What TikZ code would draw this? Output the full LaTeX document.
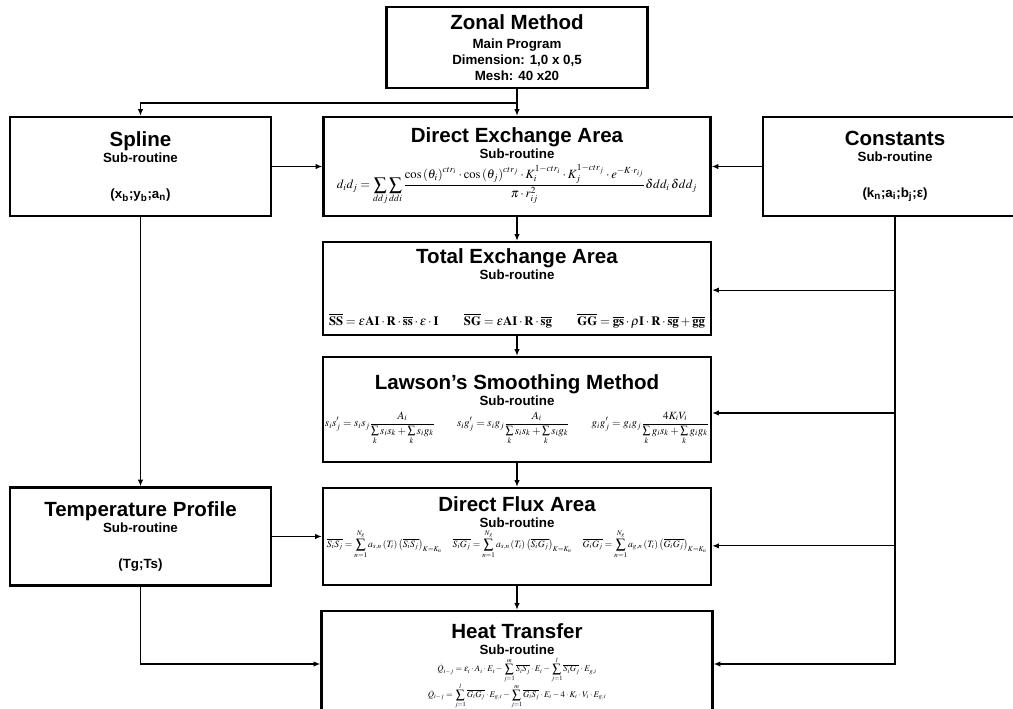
\documentclass[tikz,border=0pt]{standalone}
\usepackage{mathptmx}
\usepackage[no-math]{fontspec}
\setmainfont{Liberation Sans}
\usepackage{graphicx}
\usetikzlibrary{arrows.meta}

\newcommand{\ttl}[1]{{\fontsize{15.4}{17}\selectfont\bfseries #1}}
\newcommand{\fitto}[2]{\resizebox{#1}{!}{$\displaystyle #2$}}

\tikzset{
  block/.style 2 args={draw, line width=1.8pt, minimum width=#1*0.75pt, minimum height=#2*0.75pt,
    align=center, inner sep=0pt, font=\fontsize{10}{12}\selectfont\bfseries},
  link/.style={line width=0.8pt, -{Latex[length=5pt,width=4pt]}}
}

\begin{document}
\begin{tikzpicture}[x=0.75pt, y=-0.75pt]
\useasboundingbox (0,0) rectangle (1013,708);

\node[block={261}{81}] (main) at (517,47.5)
  {\ttl{Zonal Method}\\[2pt] Main Program\\ Dimension: 1,0 x 0,5\\ Mesh: 40 x20};

\node[block={261}{99}] (spline) at (140.5,166.5)
  {\ttl{Spline}\\ Sub-routine\\[15pt] (x\textsubscript{b};y\textsubscript{b};a\textsubscript{n})};
\node[block={387}{99}] (dea) at (517,166.5)
  {\ttl{Direct Exchange Area}\\ Sub-routine\\[3pt]
   \fitto{270pt}{d_i d_j=\sum_{ddj}\sum_{ddi}\frac{\cos\left(\theta_i\right)^{ctr_i}\cdot\cos\left(\theta_j\right)^{ctr_j}\cdot K_i^{1-ctr_i}\cdot K_j^{1-ctr_j}\cdot e^{-K\cdot r_{ij}}}{\pi\cdot r_{ij}^2}\delta dd_i\,\delta dd_j}};
\node[block={264}{99}] (const) at (895,166.5)
  {\ttl{Constants}\\ Sub-routine\\[15pt] (k\textsubscript{n};a\textsubscript{i};b\textsubscript{j};ε)};

\node[block={388}{93}] (tea) at (517,288.5)
  {\ttl{Total Exchange Area}\\ Sub-routine\\[22pt]
   \fitto{282pt}{\overline{\mathbf{SS}}=\varepsilon\mathbf{AI}\cdot\mathbf{R}\cdot\overline{\mathbf{ss}}\cdot\varepsilon\cdot\mathbf{I}\qquad\overline{\mathbf{SG}}=\varepsilon\mathbf{AI}\cdot\mathbf{R}\cdot\overline{\mathbf{sg}}\qquad\overline{\mathbf{GG}}=\overline{\mathbf{gs}}\cdot\rho\mathbf{I}\cdot\mathbf{R}\cdot\overline{\mathbf{sg}}+\overline{\mathbf{gg}}}};

\node[block={388}{105}] (law) at (517,409.5)
  {\ttl{Lawson’s Smoothing Method}\\ Sub-routine\\[4pt]
   \fitto{288pt}{s_is_j'=s_is_j\frac{A_i}{\sum\limits_k s_is_k+\sum\limits_k s_ig_k}\qquad s_ig_j'=s_ig_j\frac{A_i}{\sum\limits_k s_is_k+\sum\limits_k s_ig_k}\qquad g_ig_j'=g_ig_j\frac{4K_iV_i}{\sum\limits_k g_is_k+\sum\limits_k g_ig_k}}};

\node[block={261}{98}] (temp) at (140.5,536.5)
  {\ttl{Temperature Profile}\\ Sub-routine\\[15pt] (Tg;Ts)};
\node[block={388}{97}] (dfa) at (517,536.5)
  {\ttl{Direct Flux Area}\\ Sub-routine\\[1pt]
   \fitto{285pt}{\overline{S_iS_j}=\sum_{n=1}^{N_g}a_{s,n}\left(T_i\right)\left(\overline{S_iS_j}\right)_{K=K_n}\quad\overline{S_iG_j}=\sum_{n=1}^{N_g}a_{s,n}\left(T_i\right)\left(\overline{S_iG_j}\right)_{K=K_n}\quad\overline{G_iG_j}=\sum_{n=1}^{N_g}a_{g,n}\left(T_i\right)\left(\overline{G_iG_j}\right)_{K=K_n}}\\[10pt]};

\node[block={391}{106}] (ht) at (517,664)
  {\ttl{Heat Transfer}\\ Sub-routine\\[1pt]
   \resizebox{140pt}{!}{$\begin{array}{c}
   \displaystyle\dot{Q}_{i-j}=\varepsilon_i\cdot A_i\cdot E_i-\sum_{j=1}^{m}\overline{S_iS_j}\cdot E_i-\sum_{j=1}^{l}\overline{S_iG_j}\cdot E_{g,i}\\[5pt]
   \displaystyle\dot{Q}_{i-j}=\sum_{j=1}^{l}\overline{G_iG_j}\cdot E_{g,i}-\sum_{j=1}^{m}\overline{G_iS_j}\cdot E_i-4\cdot K_i\cdot V_i\cdot E_{g,i}
   \end{array}$}\\[-4pt]};

\coordinate (split) at (517,103);
\draw[link] (main) -- (dea);
\draw[link] (split) -| (spline);
\draw[link] (spline) -- (dea);
\draw[link] (const) -- (dea);
\draw[link] (dea) -- (tea);
\draw[link] (tea) -- (law);
\draw[link] (law) -- (dfa);
\draw[link] (dfa) -- (ht);
\draw[link] (spline) -- (temp);
\draw[link] (temp) -- (dfa);
\draw[link] (temp) |- (ht);
\draw[link] (const) |- (ht);
\foreach \n/\dy in {tea/1.2,law/2.6,dfa/7}
  \draw[link] ([yshift=-\dy pt]\n.east -| const.south) -- ([yshift=-\dy pt]\n.east);
\end{tikzpicture}
\end{document}
